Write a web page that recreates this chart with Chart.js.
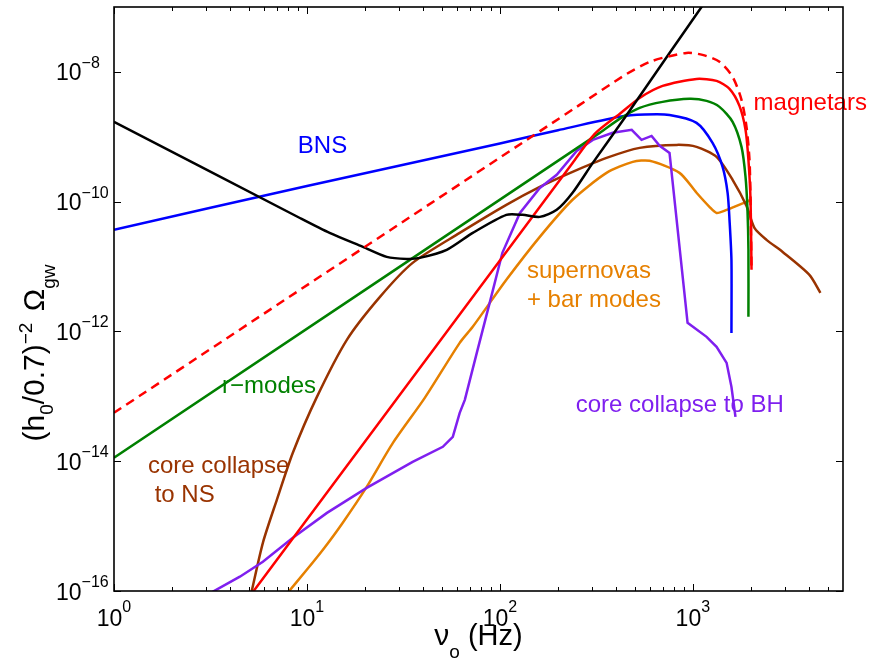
<!DOCTYPE html>
<html>
<head>
<meta charset="utf-8">
<title>Stochastic GW backgrounds</title>
<script src="https://cdn.jsdelivr.net/npm/chart.js@4/dist/chart.umd.min.js"></script>
<style>
  html, body { margin: 0; padding: 0; background: #fff; }
</style>
</head>
<body>
<canvas id="chart" width="874" height="662"></canvas>
<script>
// ============================================================
// Data: frequency (Hz) and (h0/0.7)^-2 Omega_gw for each source
// ============================================================
const bnsFreq  = [1, 10, 100, 200, 417, 562, 757, 1045, 1265, 1426, 1514, 1549, 1585, 1585];
const bnsOmega = [3.7e-11, 1.74e-10, 7.9e-10, 1.26e-9, 2.03e-9, 2.2e-9, 2.17e-9, 1.64e-9, 8.05e-10,
                  3.44e-10, 1.37e-10, 5.2e-11, 1.26e-11, 9.5e-13];

const sensFreq  = [1, 9.19, 13.1, 19.5, 25.9, 32.9, 38.4, 53.0, 72.3, 108, 131, 161, 197, 238, 303,
                   454, 757, 1109, 1459];
const sensOmega = [1.70e-9, 5.6e-11, 3.30e-11, 2.01e-11, 1.41e-11, 1.31e-11, 1.36e-11, 1.81e-11,
                   3.30e-11, 6.26e-11, 6.26e-11, 5.83e-11, 7.48e-11, 1.37e-10, 3.96e-10, 2.17e-9,
                   1.96e-8, 1.0e-7, 3.36e-7];

const magUpFreq  = [1, 259, 454, 618, 927, 1122, 1374, 1607, 1787, 1897, 1966, 1990, 2014];
const magUpOmega = [5.57e-14, 3.10e-9, 9.3e-9, 1.48e-8, 1.96e-8, 1.83e-8, 1.43e-8, 8.4e-9, 3.71e-9,
                    1.42e-9, 4.41e-10, 1.07e-10, 8.9e-12];

const magFreq  = [4.45, 100, 238, 310, 417, 530, 697, 1045, 1327, 1549, 1744, 1875, 1941, 1990, 2014];
const magOmega = [5.0e-17, 1.24e-11, 3.96e-10, 1.11e-9, 2.25e-9, 3.97e-9, 6.08e-9, 7.80e-9, 7.26e-9,
                  5.47e-9, 2.99e-9, 1.28e-9, 4.41e-10, 1.07e-10, 8.9e-12];

const rmodeFreq  = [1, 329, 417, 530, 697, 961, 1178, 1374, 1607, 1787, 1875, 1919, 1941, 1941];
const rmodeOmega = [1.13e-14, 1.15e-9, 1.89e-9, 2.79e-9, 3.45e-9, 3.84e-9, 3.57e-9, 2.89e-9, 1.70e-9,
                    6.98e-10, 2.41e-10, 7.48e-11, 1.81e-11, 1.68e-12];

const ccnsFreq  = [5.12, 5.91, 6.98, 8.45, 11.2, 16.1, 23.9, 35.3, 61.9, 108, 161, 238, 357, 530, 824,
                   1045, 1327, 1607, 1897, 2085, 2408, 2911, 4018, 4582];
const ccnsOmega = [8.7e-17, 5.53e-16, 2.54e-15, 1.35e-14, 9.48e-14, 7.43e-13, 3.41e-12, 1.14e-11,
                   3.30e-11, 8.93e-11, 1.69e-10, 2.88e-10, 4.73e-10, 6.75e-10, 7.50e-10, 6.98e-10,
                   4.90e-10, 2.17e-10, 8.61e-11, 3.94e-11, 2.58e-11, 1.69e-11, 7.45e-12, 3.94e-12];

const snFreq  = [7.78, 9.98, 12.1, 15.3, 20.4, 27.9, 40.8, 61.9, 72.3, 108, 161, 238, 357, 488, 597,
                 853, 1045, 1219, 1327, 1496, 2014];
const snOmega = [8.7e-17, 2.12e-16, 4.32e-16, 1.12e-15, 4.03e-15, 1.92e-14, 9.48e-14, 6.67e-13,
                 1.18e-12, 6.24e-12, 2.87e-11, 1.07e-10, 2.78e-10, 4.10e-10, 4.26e-10, 2.78e-10,
                 1.37e-10, 8.32e-11, 6.71e-11, 7.48e-11, 1.07e-10];

const ccbhFreq  = [3.18, 4.49, 5.91, 8.45, 12.7, 20.4, 35.3, 50.6, 57.0, 61.9, 65.8, 75.9, 88.5, 103,
                   127, 161, 197, 250, 303, 384, 482, 542, 611, 673, 757, 939, 1178, 1327, 1496, 1585, 1663];
const ccbhOmega = [9.4e-17, 1.66e-16, 2.82e-16, 6.61e-16, 1.60e-15, 3.89e-15, 9.8e-15, 1.67e-14,
                   2.38e-14, 5.57e-14, 8.83e-14, 4.68e-13, 2.76e-12, 1.63e-11, 6.71e-11, 1.63e-10,
                   2.59e-10, 6.07e-10, 8.95e-10, 1.15e-9, 1.28e-9, 8.95e-10, 1.03e-9, 7.24e-10,
                   5.65e-10, 1.36e-12, 8.26e-13, 5.79e-13, 3.28e-13, 1.40e-13, 4.83e-14];

// axis ranges and ticks
const X_MIN = 1, X_MAX = 6000;
const Y_MIN = 1e-16, Y_MAX = 1e-7;
const xMajor    = [1, 10, 100, 1000];
const xMajorExp = ['0', '1', '2', '3'];
const xMinor    = [2, 3, 4, 5, 6, 7, 8, 9, 20, 30, 40, 50, 60, 70, 80, 90,
                   200, 300, 400, 500, 600, 700, 800, 900, 2000, 3000, 4000, 5000];
const yMajor    = [1e-16, 1e-14, 1e-12, 1e-10, 1e-8];
const yMajorExp = ['\u221216', '\u221214', '\u221212', '\u221210', '\u22128'];

// colours
const BLUE   = '#0000ff';
const BLACK  = '#000000';
const RED    = '#ff0000';
const GREEN  = '#008000';
const BROWN  = '#993300';
const ORANGE = '#e68000';
const PURPLE = '#7f1fef';

// text labels placed next to the curves (data coordinates, baseline-left)
const curveLabels = [
  { lines: ['BNS'],                         f: 8.97, omega: 5.65e-10, color: BLUE },
  { lines: ['magnetars'],                   f: 2063, omega: 2.6e-9,   color: RED },
  { lines: ['r\u2212modes'],                f: 3.63, omega: 1.13e-13, color: GREEN },
  { lines: ['core collapse', ' to NS'],     f: 1.50, omega: 6.6e-15,  color: BROWN },
  { lines: ['supernovas', '+ bar modes'],   f: 138,  omega: 6.7e-12,  color: ORANGE },
  { lines: ['core collapse to BH'],         f: 247,  omega: 5.77e-14, color: PURPLE },
];

const FONT = "'Liberation Sans', Arial, Helvetica, sans-serif";

// ============================================================
// Helpers
// ============================================================
function pts(xs, ys) {
  return xs.map((x, i) => ({ x, y: ys[i] }));
}

function series(xs, ys, color, extra) {
  return Object.assign({
    data: pts(xs, ys),
    borderColor: color,
    borderWidth: 2.5,
    pointRadius: 0,
    tension: 0.25,
    fill: false,
    clip: 0,
  }, extra || {});
}

// draw a run of text pieces with individual size and vertical shift
function drawRuns(ctx, runs, x, y) {
  let cx = x;
  runs.forEach(r => {
    ctx.font = `${r.size}px ${FONT}`;
    ctx.fillText(r.text, cx, y + (r.dy || 0));
    cx += ctx.measureText(r.text).width + (r.gap || 0);
  });
}

function runsWidth(ctx, runs) {
  return runs.reduce((w, r) => {
    ctx.font = `${r.size}px ${FONT}`;
    return w + ctx.measureText(r.text).width + (r.gap || 0);
  }, 0);
}

// ============================================================
// Frame, inward ticks, power-of-ten labels, titles, curve labels
// ============================================================
const axesPlugin = {
  id: 'axesBox',
  afterDatasetsDraw(chart) {
    const { ctx, chartArea: a } = chart;
    const sx = chart.scales.x, sy = chart.scales.y;
    ctx.save();

    // curve labels
    ctx.textAlign = 'left';
    ctx.textBaseline = 'alphabetic';
    ctx.font = `24px ${FONT}`;
    curveLabels.forEach(l => {
      const px = sx.getPixelForValue(l.f);
      const py = sy.getPixelForValue(l.omega);
      ctx.fillStyle = l.color;
      l.lines.forEach((t, i) => ctx.fillText(t, px, py + i * 29));
    });

    // tick marks
    ctx.strokeStyle = '#000';
    ctx.lineWidth = 1;
    ctx.beginPath();
    const vTick = (v, len) => {
      const p = Math.round(sx.getPixelForValue(v)) + 0.5;
      ctx.moveTo(p, a.bottom); ctx.lineTo(p, a.bottom - len);
      ctx.moveTo(p, a.top);    ctx.lineTo(p, a.top + len);
    };
    xMajor.forEach(v => vTick(v, 7));
    xMinor.forEach(v => vTick(v, 4));
    yMajor.forEach(v => {
      const p = Math.round(sy.getPixelForValue(v)) + 0.5;
      ctx.moveTo(a.left, p);  ctx.lineTo(a.left + 7, p);
      ctx.moveTo(a.right, p); ctx.lineTo(a.right - 7, p);
    });
    ctx.stroke();

    ctx.lineWidth = 1.6;
    ctx.strokeRect(a.left, a.top, a.right - a.left, a.bottom - a.top);

    // tick labels
    ctx.fillStyle = '#000';
    xMajor.forEach((v, i) => {
      const runs = [
        { text: '10', size: 23 },
        { text: xMajorExp[i], size: 16, dy: -14 },
      ];
      const w = runsWidth(ctx, runs);
      drawRuns(ctx, runs, sx.getPixelForValue(v) - w / 2, a.bottom + 35);
    });
    yMajor.forEach((v, i) => {
      const runs = [
        { text: '10', size: 23 },
        { text: yMajorExp[i], size: 16, dy: -12.5 },
      ];
      drawRuns(ctx, runs, a.left - 58, sy.getPixelForValue(v) + 8.5);
    });

    // x title
    const xRuns = [
      { text: '\u03bd', size: 30 },
      { text: 'o', size: 19, dy: 13 },
      { text: ' (Hz)', size: 29 },
    ];
    const xw = runsWidth(ctx, xRuns);
    drawRuns(ctx, xRuns, (a.left + a.right) / 2 - xw / 2, 645);

    // y title, rotated
    const yRuns = [
      { text: '(h', size: 30 },
      { text: '0', size: 19, dy: 9 },
      { text: '/0.7)', size: 30 },
      { text: '\u22122', size: 19, dy: -12, gap: 3 },
      { text: ' \u03a9', size: 30 },
      { text: 'gw', size: 19, dy: 11 },
    ];
    const yw = runsWidth(ctx, yRuns);
    ctx.translate(44, 353);
    ctx.rotate(-Math.PI / 2);
    drawRuns(ctx, yRuns, -yw / 2, 0);

    ctx.restore();
  },
};

// ============================================================
// Chart
// ============================================================
new Chart(document.getElementById('chart'), {
  type: 'line',
  data: {
    datasets: [
      series(magUpFreq, magUpOmega, RED, { borderDash: [9, 6] }),
      series(sensFreq, sensOmega, BLACK),
      series(magFreq, magOmega, RED),
      series(rmodeFreq, rmodeOmega, GREEN),
      series(bnsFreq, bnsOmega, BLUE),
      series(ccbhFreq, ccbhOmega, PURPLE, { tension: 0 }),
      series(ccnsFreq, ccnsOmega, BROWN),
      series(snFreq, snOmega, ORANGE),
    ],
  },
  options: {
    responsive: false,
    animation: false,
    devicePixelRatio: 1,
    layout: { padding: { left: 114, right: 31, top: 7, bottom: 71 } },
    plugins: { legend: { display: false }, tooltip: { enabled: false } },
    scales: {
      x: { type: 'logarithmic', min: X_MIN, max: X_MAX, display: false },
      y: { type: 'logarithmic', min: Y_MIN, max: Y_MAX, display: false },
    },
  },
  plugins: [axesPlugin],
});
</script>
</body>
</html>
